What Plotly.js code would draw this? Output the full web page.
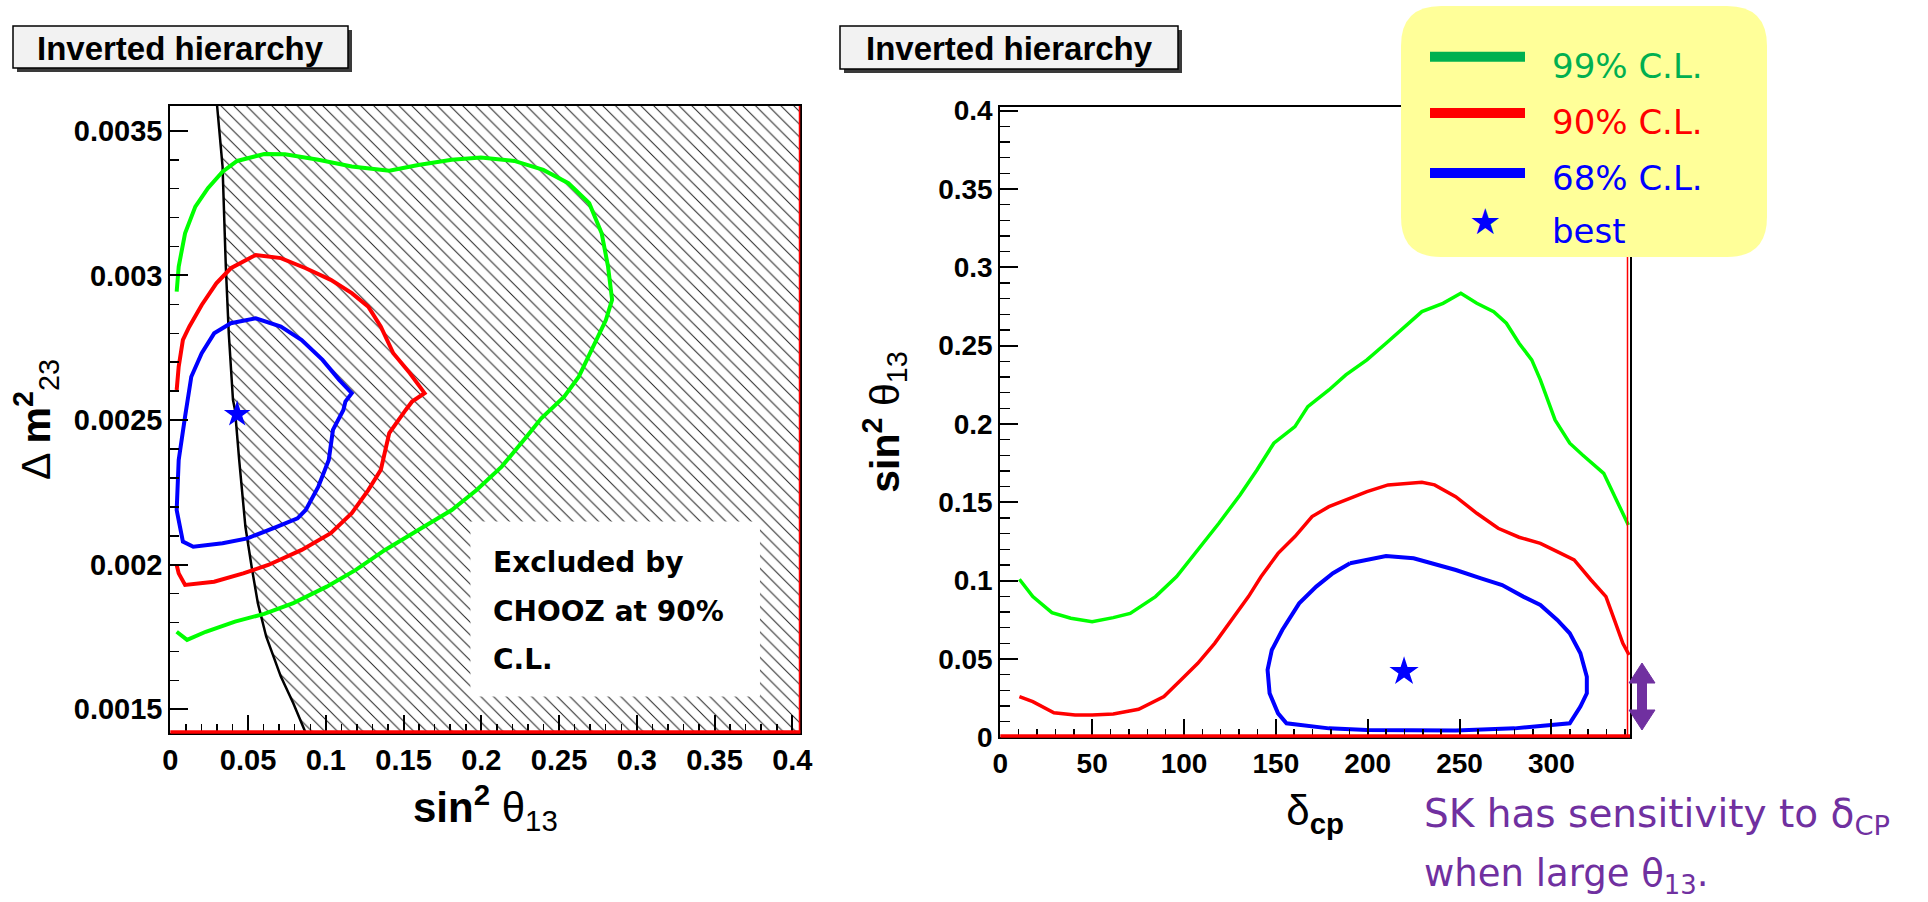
<!DOCTYPE html>
<html><head><meta charset="utf-8">
<script src="https://cdn.plot.ly/plotly-3.0.1.min.js"></script>
<style>html,body{margin:0;padding:0;background:#fff;} #chart{width:1928px;height:902px;}</style>
</head><body><div id="chart"></div>
<script>
// ---------- Left panel: sin^2 theta13 vs Delta m^2_23 ----------
const leftGreenX = [0.0041,0.0054,0.0095,0.0161,0.0242,0.0336,0.043,0.0604,0.0738,0.0952,0.1167,0.1408,0.1595,0.181,0.1997,0.2212,0.2399,0.256,0.2694,0.2774,0.2815,0.2841,0.2801,0.2721,0.2627,0.2533,0.2386,0.2292,0.2131,0.197,0.181,0.1595,0.1381,0.1193,0.1006,0.0791,0.0604,0.0416,0.0228,0.0108,0.0041];
const leftGreenY = [0.002944,0.003031,0.003146,0.003238,0.003302,0.003359,0.003396,0.00342,0.003419,0.0034,0.003377,0.003362,0.003382,0.0034,0.003408,0.003396,0.003365,0.003319,0.00325,0.003146,0.003031,0.002916,0.002846,0.002754,0.00265,0.002581,0.002506,0.002443,0.002339,0.002258,0.002189,0.00212,0.002051,0.001982,0.001924,0.001867,0.00183,0.001803,0.001768,0.00174,0.001768];
const leftRedX = [0.0041,0.0054,0.0081,0.0122,0.0202,0.0296,0.0389,0.055,0.0711,0.0871,0.1032,0.1167,0.1273,0.1354,0.1434,0.1541,0.1635,0.1555,0.1514,0.1408,0.1354,0.1273,0.1167,0.1032,0.0845,0.063,0.0469,0.0282,0.0095,0.0054,0.0041];
const leftRedY = [0.002604,0.002685,0.002777,0.002823,0.002898,0.002973,0.003025,0.003071,0.00306,0.003025,0.002985,0.002939,0.002892,0.002823,0.002731,0.002662,0.002593,0.002564,0.002535,0.002455,0.002328,0.002258,0.002178,0.002109,0.002051,0.001999,0.00197,0.001941,0.00193,0.00197,0.001999];
const leftBlueX = [0.0095,0.0135,0.0202,0.0282,0.0389,0.055,0.0711,0.0845,0.0979,0.1086,0.1167,0.1126,0.1113,0.1046,0.1019,0.0952,0.0871,0.0818,0.0684,0.0496,0.0336,0.0148,0.0081,0.0041,0.0054,0.0095];
const leftBlueY = [0.002512,0.00265,0.002731,0.0028,0.002835,0.002852,0.002823,0.002777,0.002708,0.002639,0.002593,0.002564,0.002535,0.002466,0.002362,0.00227,0.002189,0.00216,0.002131,0.002091,0.002074,0.002062,0.00208,0.002189,0.002362,0.002512];
const choozX = [0.0301,0.0336,0.0357,0.0376,0.0403,0.0416,0.0443,0.0483,0.0523,0.0563,0.0617,0.0711,0.0791,0.0871];
const choozY = [0.003586,0.003377,0.003031,0.0028,0.00257,0.002535,0.002362,0.002131,0.001993,0.001867,0.001751,0.001613,0.001521,0.001418];
const leftBestX = [0.043];
const leftBestY = [0.00252];
const leftXTickVals = [0,0.05,0.1,0.15,0.2,0.25,0.3,0.35,0.4];
const leftXTickText = ['0','0.05','0.1','0.15','0.2','0.25','0.3','0.35','0.4'];
const leftYTickVals = [0.0015,0.002,0.0025,0.003,0.0035];
const leftYTickText = ['0.0015','0.002','0.0025','0.003','0.0035'];

// ---------- Right panel: delta_cp vs sin^2 theta13 ----------
const rightGreenX = [10.4,17.7,28.1,38.4,50,61.5,70.7,84.5,96,107.5,119,130.5,139.7,148.9,160.4,167.4,178.9,188.1,199.6,211.1,220.3,229.5,241,250.7,259.4,268.6,275.5,282.4,289.3,294,302,310,317,328.5,335.4,341.9];
const rightGreenY = [0.1009,0.0898,0.0796,0.076,0.0738,0.0764,0.0791,0.0898,0.1026,0.1196,0.1366,0.1547,0.1706,0.1877,0.1983,0.2111,0.2217,0.2313,0.2409,0.2526,0.2621,0.2717,0.277,0.2834,0.277,0.2717,0.2643,0.2515,0.2409,0.2281,0.2026,0.1877,0.1802,0.1685,0.1515,0.1355];
const rightRedX = [10.4,17.7,29.2,40.7,50,61.5,75.3,89.1,98.3,107.5,116.7,125.9,135.1,142,151.2,160.4,169.7,178.9,190.4,199.6,211.1,220.3,229.5,236.4,247.9,259.4,271,282.4,294,303.2,312.4,321.6,329.7,334.3,338.9,342.3];
const rightRedY = [0.026,0.0228,0.0157,0.0143,0.0143,0.0149,0.0179,0.026,0.0366,0.0472,0.06,0.0749,0.0898,0.1026,0.1174,0.1281,0.1409,0.1472,0.1526,0.1568,0.1611,0.1621,0.1628,0.1611,0.1536,0.143,0.1334,0.1277,0.1238,0.1185,0.1132,0.1004,0.0898,0.0749,0.06,0.0526];
const rightBlueX = [190.4,210,225,236.4,248,261.7,273.2,284.7,294,303.2,310,315.8,319.3,319.3,315.8,310,294,280,248,225,199.6,178.9,160.4,155.8,151.2,146.6,145.5,147.8,153.5,162.7,172,181.1,190.4];
const rightBlueY = [0.1111,0.1157,0.1143,0.1106,0.1068,0.1015,0.0972,0.0898,0.0845,0.0749,0.0664,0.0536,0.0387,0.0281,0.0196,0.0089,0.0072,0.0057,0.0043,0.0043,0.0047,0.0057,0.0079,0.0089,0.0153,0.0281,0.043,0.0557,0.0685,0.0855,0.0962,0.1047,0.1111];
const rightBestX = [219.8];
const rightBestY = [0.0419];
const rightXTickVals = [0,50,100,150,200,250,300];
const rightXTickText = ['0','50','100','150','200','250','300'];
const rightYTickVals = [0,0.05,0.1,0.15,0.2,0.25,0.3,0.35,0.4];
const rightYTickText = ['0','0.05','0.1','0.15','0.2','0.25','0.3','0.35','0.4'];

const legendLabels = ['99% C.L.','90% C.L.','68% C.L.','best'];

// ---------- layout helpers (pixel -> paper) ----------
const W = 1928, H = 902;
const px = x => x / W;
const py = y => 1 - y / H;
const P = (x, y) => px(x) + ',' + py(y);

const XL = [0, 0.4052], YL = [0.001418, 0.003586];
const XR = [0, 342.8], YR = [0, 0.4025];

const GREEN = '#00FF00', RED = '#FF0000', BLUE = '#0000FF';
const LEG_GREEN = '#00B050', PURPLE = '#7030A0';
const TICKFONT = 'Liberation Sans, Arial, sans-serif';
const SLIDEFONT = 'DejaVu Sans, sans-serif';

const traces = [
  {type:'scatter', x: choozX.concat([XL[1], XL[1]]), y: choozY.concat([YL[0], YL[1]]),
   mode:'none', fill:'toself', fillcolor:'white',
   fillpattern:{shape:'\\', size:9, solidity:0.11, fgcolor:'#222', bgcolor:'white'},
   xaxis:'x', yaxis:'y', hoverinfo:'skip', showlegend:false},
  {type:'scatter', x: choozX, y: choozY, mode:'lines', line:{color:'#000', width:2.5}, xaxis:'x', yaxis:'y', showlegend:false},
  {type:'scatter', x: leftGreenX, y: leftGreenY, mode:'lines', line:{color:GREEN, width:4}, xaxis:'x', yaxis:'y', name:'99% C.L.', showlegend:false},
  {type:'scatter', x: leftRedX, y: leftRedY, mode:'lines', line:{color:RED, width:4}, xaxis:'x', yaxis:'y', name:'90% C.L.', showlegend:false},
  {type:'scatter', x: leftBlueX, y: leftBlueY, mode:'lines', line:{color:BLUE, width:4}, xaxis:'x', yaxis:'y', name:'68% C.L.', showlegend:false},
  {type:'scatter', x: leftBestX, y: leftBestY, mode:'markers', marker:{symbol:'star', size:20, color:BLUE}, xaxis:'x', yaxis:'y', name:'best', showlegend:false},
  {type:'scatter', x: rightGreenX, y: rightGreenY, mode:'lines', line:{color:GREEN, width:3.5}, xaxis:'x2', yaxis:'y2', showlegend:false},
  {type:'scatter', x: rightRedX, y: rightRedY, mode:'lines', line:{color:RED, width:3.5}, xaxis:'x2', yaxis:'y2', showlegend:false},
  {type:'scatter', x: rightBlueX, y: rightBlueY, mode:'lines', line:{color:BLUE, width:4}, xaxis:'x2', yaxis:'y2', showlegend:false},
  {type:'scatter', x: rightBestX, y: rightBestY, mode:'markers', marker:{symbol:'star', size:22, color:BLUE}, xaxis:'x2', yaxis:'y2', showlegend:false}
];

function axisBase(extra) {
  return Object.assign({
    showline:true, linecolor:'#000', linewidth:2, mirror:true,
    ticks:'inside', ticklen:18, tickwidth:2, tickcolor:'#000',
    showgrid:false, zeroline:false, tickmode:'array', fixedrange:true,
    automargin:false
  }, extra);
}

const layout = {
  width: W, height: H,
  margin:{l:0, r:0, t:0, b:0},
  paper_bgcolor:'#fff', plot_bgcolor:'#fff',
  showlegend:false,
  xaxis: axisBase({domain:[px(170.3), px(800.4)], range:XL, anchor:'y',
    tickvals:leftXTickVals, ticktext:leftXTickText,
    tickfont:{family:TICKFONT, size:29, color:'#000', weight:700},
    minor:{tickmode:'linear', tick0:0, dtick:0.01, ticks:'inside', ticklen:9, tickwidth:1.5, tickcolor:'#000', showgrid:false},
    title:{text:'<b>sin<sup>2</sup></b> θ<sub>13</sub>', font:{family:TICKFONT, size:42, color:'#000'}, standoff:18}}),
  yaxis: axisBase({domain:[py(733), py(106)], range:YL, anchor:'x',
    tickvals:leftYTickVals, ticktext:leftYTickText,
    tickfont:{family:TICKFONT, size:29, color:'#000', weight:700},
    minor:{tickmode:'linear', tick0:0, dtick:0.0001, ticks:'inside', ticklen:9, tickwidth:1.5, tickcolor:'#000', showgrid:false},
    title:{text:'Δ <b>m<sup>2</sup></b><sub>23</sub>', font:{family:TICKFONT, size:41, color:'#000'}, standoff:10}}),
  xaxis2: axisBase({domain:[px(1000.3), px(1630)], range:XR, anchor:'y2',
    tickvals:rightXTickVals, ticktext:rightXTickText,
    tickfont:{family:TICKFONT, size:28, color:'#000', weight:700},
    minor:{tickmode:'linear', tick0:0, dtick:10, ticks:'inside', ticklen:8, tickwidth:1.5, tickcolor:'#000', showgrid:false},
    title:{text:'δ<sub><b>cp</b></sub>', font:{family:TICKFONT, size:42, color:'#000'}, standoff:18}}),
  yaxis2: axisBase({domain:[py(737.3), py(106.7)], range:YR, anchor:'x2',
    tickvals:rightYTickVals, ticktext:rightYTickText,
    tickfont:{family:TICKFONT, size:28, color:'#000', weight:700},
    minor:{tickmode:'linear', tick0:0, dtick:0.01, ticks:'inside', ticklen:10, tickwidth:1.5, tickcolor:'#000', showgrid:false},
    title:{text:'<b>sin<sup>2</sup></b> θ<sub>13</sub>', font:{family:TICKFONT, size:41, color:'#000'}, standoff:26}}),
  shapes: [],
  annotations: []
};

const S = layout.shapes, A = layout.annotations;

// white label box inside the CHOOZ exclusion region
S.push({type:'rect', xref:'x', yref:'y', x0:0.193, x1:0.3792, y0:0.001544, y1:0.002149, fillcolor:'#fff', line:{width:0}, layer:'above'});
// red edges (ROOT lines along the bottom / right side)
S.push({type:'line', xref:'paper', yref:'paper', x0:px(170.3), x1:px(800.4), y0:py(732), y1:py(732), line:{color:RED, width:3.5}, layer:'above'});
S.push({type:'line', xref:'paper', yref:'paper', x0:px(799.5), x1:px(799.5), y0:py(106), y1:py(733), line:{color:RED, width:1.5}, layer:'above'});
S.push({type:'line', xref:'paper', yref:'paper', x0:px(1000.3), x1:px(1630), y0:py(736), y1:py(736), line:{color:RED, width:3.5}, layer:'above'});
S.push({type:'line', xref:'paper', yref:'paper', x0:px(1627.5), x1:px(1627.5), y0:py(106.7), y1:py(737), line:{color:RED, width:1.5}, layer:'above'});

// "Inverted hierarchy" boxes with shadow
[[13,348,26,68],[840,1178,26,69]].forEach(b => {
  S.push({type:'rect', xref:'paper', yref:'paper', x0:px(b[0]+4), x1:px(b[1]+4), y0:py(b[2]+4), y1:py(b[3]+4), fillcolor:'#3a3a3a', line:{width:0}, layer:'above'});
  S.push({type:'rect', xref:'paper', yref:'paper', x0:px(b[0]), x1:px(b[1]), y0:py(b[2]), y1:py(b[3]), fillcolor:'#f2f2f2', line:{color:'#000', width:1.5}, layer:'above'});
  A.push({xref:'paper', yref:'paper', x:px((b[0]+b[1])/2), y:py((b[2]+b[3])/2+1), xanchor:'center', yanchor:'middle', showarrow:false,
    text:'<b>Inverted hierarchy</b>', font:{family:TICKFONT, size:33, color:'#000'}});
});

// legend box with rounded corners
(function(){
  const x1=1401, x2=1767, y1=6, y2=257, r=40;
  const path = 'M'+P(x1+r,y1)+' L'+P(x2-r,y1)+' Q'+P(x2,y1)+' '+P(x2,y1+r)+' L'+P(x2,y2-r)+' Q'+P(x2,y2)+' '+P(x2-r,y2)+
               ' L'+P(x1+r,y2)+' Q'+P(x1,y2)+' '+P(x1,y2-r)+' L'+P(x1,y1+r)+' Q'+P(x1,y1)+' '+P(x1+r,y1)+' Z';
  S.push({type:'path', xref:'paper', yref:'paper', path:path, fillcolor:'#FFFF99', line:{width:0}, layer:'above'});
})();
const legColors = [LEG_GREEN, RED, BLUE, BLUE];
const legLineY = [56.7, 113, 173];
legLineY.forEach((y,i) => S.push({type:'line', xref:'paper', yref:'paper', x0:px(1430), x1:px(1525), y0:py(y), y1:py(y), line:{color:legColors[i], width:10}, layer:'above'}));
const legTextY = [66, 121.5, 177.5, 231];
legendLabels.forEach((t,i) => A.push({xref:'paper', yref:'paper', x:px(1550), y:py(legTextY[i]), xanchor:'left', yanchor:'middle', showarrow:false,
  text:t, font:{family:SLIDEFONT, size:34, color:legColors[i]}}));
A.push({xref:'paper', yref:'paper', x:px(1485), y:py(222), xanchor:'center', yanchor:'middle', showarrow:false,
  text:'★', font:{family:SLIDEFONT, size:36, color:BLUE}});

// CHOOZ label
[['Excluded by',562],['CHOOZ at 90%',611],['C.L.',659]].forEach(l => A.push({xref:'paper', yref:'paper', x:px(491), y:py(l[1]), xanchor:'left', yanchor:'middle', showarrow:false,
  text:'<b>'+l[0]+'</b>', font:{family:SLIDEFONT, size:28, color:'#000'}}));

// purple note + double arrow
A.push({xref:'paper', yref:'paper', x:px(1422), y:py(816), xanchor:'left', yanchor:'middle', showarrow:false,
  text:'SK has sensitivity to δ<sub>CP</sub>', font:{family:SLIDEFONT, size:39, color:PURPLE}});
A.push({xref:'paper', yref:'paper', x:px(1422), y:py(876), xanchor:'left', yanchor:'middle', showarrow:false,
  text:'when large θ<sub>13</sub>.', font:{family:SLIDEFONT, size:37, color:PURPLE}});
(function(){
  const cx=1642, top=663, bot=730, hw=13, hh=20, sw=4.5;
  const path = 'M'+P(cx,top)+' L'+P(cx+hw,top+hh)+' L'+P(cx+sw,top+hh)+' L'+P(cx+sw,bot-hh)+' L'+P(cx+hw,bot-hh)+' L'+P(cx,bot)+
               ' L'+P(cx-hw,bot-hh)+' L'+P(cx-sw,bot-hh)+' L'+P(cx-sw,top+hh)+' L'+P(cx-hw,top+hh)+' Z';
  S.push({type:'path', xref:'paper', yref:'paper', path:path, fillcolor:PURPLE, line:{color:PURPLE, width:1}, layer:'above'});
})();

Plotly.newPlot('chart', traces, layout, {displayModeBar:false, staticPlot:true});
</script></body></html>
